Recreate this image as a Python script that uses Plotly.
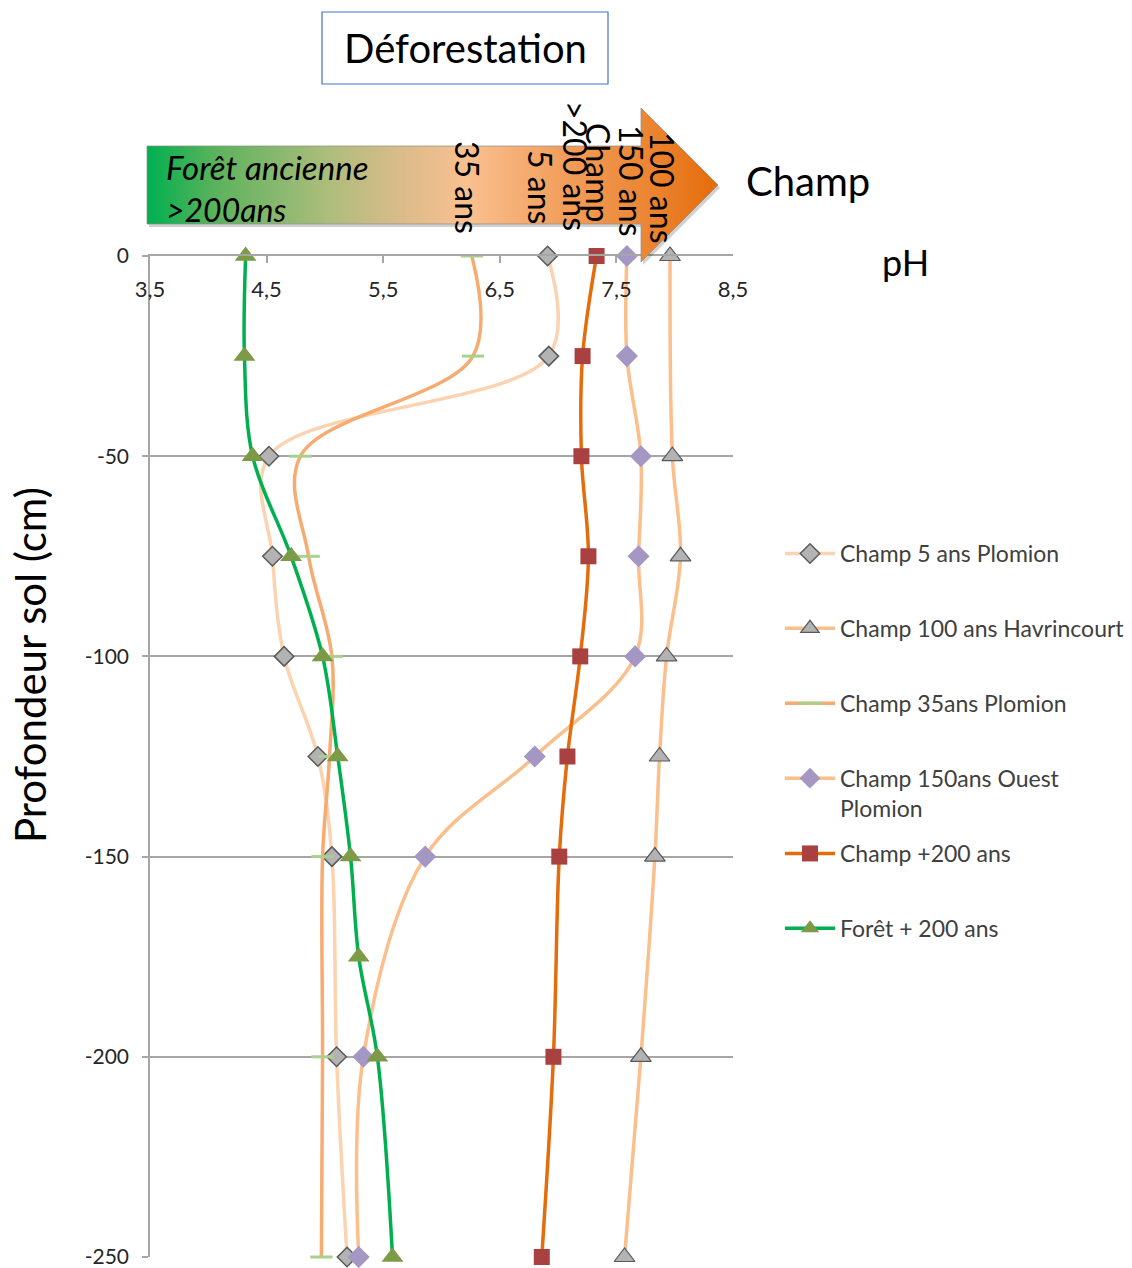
import plotly.graph_objects as go

W, H = 1132, 1268
FONT = "Lato"
GRID = "#a6a6a6"

# ---------------- data ----------------
depth_5ans = [0, -25, -50, -75, -100, -125, -150, -200, -250]
ph_5ans = [6.91, 6.92, 4.52, 4.55, 4.65, 4.94, 5.06, 5.10, 5.19]

depth_100ans = [0, -50, -75, -100, -125, -150, -200, -250]
ph_100ans = [7.96, 7.98, 8.05, 7.93, 7.87, 7.83, 7.71, 7.57]

depth_35ans = [0, -25, -50, -75, -100, -125, -150, -200, -250]
ph_35ans = [6.26, 6.27, 4.79, 4.86, 5.06, 5.04, 4.98, 4.98, 4.97]

depth_150ans = [0, -25, -50, -75, -100, -125, -150, -200, -250]
ph_150ans = [7.59, 7.59, 7.71, 7.69, 7.66, 6.80, 5.86, 5.33, 5.29]

depth_200ans = [0, -25, -50, -75, -100, -125, -150, -200, -250]
ph_200ans = [7.33, 7.21, 7.20, 7.26, 7.19, 7.08, 7.01, 6.96, 6.86]

depth_foret = [0, -25, -50, -75, -100, -125, -150, -175, -200, -250]
ph_foret = [4.32, 4.31, 4.38, 4.71, 4.98, 5.11, 5.22, 5.29, 5.45, 5.58]

x_tickvals = [3.5, 4.5, 5.5, 6.5, 7.5, 8.5]
x_ticktext = ["3,5", "4,5", "5,5", "6,5", "7,5", "8,5"]
y_tickvals = [0, -50, -100, -150, -200, -250]
y_ticktext = ["0", "-50", "-100", "-150", "-200", "-250"]

names = ["Champ 5 ans Plomion", "Champ 100 ans Havrincourt", "Champ 35ans Plomion",
         "Champ 150ans Ouest<br>Plomion", "Champ +200 ans", "Forêt + 200 ans"]

# decorative arrow outline (pixel coordinates of the overlay axes)
ARROW_X = [147, 641, 641, 718, 641, 641, 147, 147]
ARROW_Y = [146, 146, 108, 185, 262, 224, 224, 146]

fig = go.Figure()

def add_series(x, y, name, line_color, line_width, marker, legend):
    fig.add_trace(go.Scatter(
        x=x, y=y, name=name, mode="lines+markers",
        line=dict(color=line_color, width=line_width, shape="spline", smoothing=1.0),
        marker=marker, cliponaxis=False, legend=legend, legendgroup=name,
        xaxis="x", yaxis="y"))

add_series(ph_5ans, depth_5ans, names[0], "#fcd3b0", 3.5,
           dict(symbol="diamond", size=15, color="#b3b3b3", line=dict(color="#595959", width=1.5)), "legend")
add_series(ph_100ans, depth_100ans, names[1], "#fbbf8c", 3.5,
           dict(symbol="triangle-up", size=18, color="#b3b3b3", line=dict(color="#595959", width=1.2)), "legend")
add_series(ph_35ans, depth_35ans, names[2], "#f6ab70", 3.5,
           dict(symbol="line-ew", size=16, color="#a9d18e", line=dict(color="#a9d18e", width=3)), "legend")
add_series(ph_150ans, depth_150ans, names[3], "#fbbf8c", 3.5,
           dict(symbol="diamond", size=17, color="#a497c3", line=dict(width=0)), "legend")
add_series(ph_200ans, depth_200ans, names[4], "#e46c0a", 3.5,
           dict(symbol="square", size=16, color="#a8413f", line=dict(width=0)), "legend2")
add_series(ph_foret, depth_foret, names[5], "#00b050", 3.5,
           dict(symbol="triangle-up", size=19, color="#7d9a47", line=dict(width=0)), "legend2")

# arrow shadow + gradient arrow in overlay pixel axes
fig.add_trace(go.Scatter(
    x=[v + 2 for v in ARROW_X], y=[v + 3 for v in ARROW_Y], mode="lines", fill="toself",
    fillcolor="rgba(0,0,0,0.18)", line=dict(width=0), showlegend=False, hoverinfo="skip",
    xaxis="x2", yaxis="y2"))
fig.add_trace(go.Scatter(
    x=ARROW_X, y=ARROW_Y, mode="lines", fill="toself",
    fillgradient=dict(type="horizontal", colorscale=[
        [0.0, "#00b050"], [0.12, "#5cb25c"], [0.32, "#aebd7c"], [0.45, "#dcbb8a"],
        [0.56, "#fac090"], [0.72, "#f2a05e"], [0.88, "#eb8532"], [1.0, "#e46c0a"]]),
    line=dict(color="rgba(140,140,140,0.7)", width=1), showlegend=False, hoverinfo="skip",
    xaxis="x2", yaxis="y2"))

xtickfont = dict(family=FONT, size=22, color="#262626")
ytickfont = dict(family=FONT, size=21, color="#262626")

fig.update_layout(
    width=W, height=H, margin=dict(l=0, r=0, t=0, b=0, autoexpand=False),
    paper_bgcolor="white", plot_bgcolor="rgba(0,0,0,0)",
    font=dict(family=FONT, color="black"),
    xaxis=dict(domain=[150 / W, 733 / W], range=[3.5, 8.5], side="top", anchor="y",
               tickvals=x_tickvals, ticktext=x_ticktext, ticks="inside", ticklen=7,
               tickcolor=GRID, tickwidth=1.5, showline=True, linecolor=GRID, linewidth=1.5,
               showgrid=False, zeroline=False, ticklabelposition="inside",
               ticklabeloverflow="allow", ticklabelstandoff=20, tickfont=xtickfont,
               fixedrange=True, automargin=False),
    yaxis=dict(domain=[1 - 1257 / H, 1 - 256 / H], range=[-250, 0], anchor="x",
               tickvals=y_tickvals, ticktext=y_ticktext, ticks="outside", ticklen=6,
               tickcolor=GRID, tickwidth=1.5, showline=True, linecolor=GRID, linewidth=1.5,
               showgrid=True, gridcolor=GRID, gridwidth=1.5, zeroline=False,
               ticklabeloverflow="allow", ticklabelstandoff=9, tickfont=ytickfont,
               fixedrange=True, automargin=False),
    xaxis2=dict(domain=[0, 1], range=[0, W], anchor="y2", visible=False, fixedrange=True),
    yaxis2=dict(domain=[0, 1], range=[H, 0], anchor="x2", visible=False, fixedrange=True),
    legend=dict(x=780 / W, y=1 - 532 / H, xanchor="left", yanchor="top",
                font=dict(family=FONT, size=23, color="#404040"), tracegroupgap=42,
                itemwidth=50, valign="top", bgcolor="rgba(0,0,0,0)"),
    legend2=dict(x=780 / W, y=1 - 832 / H, xanchor="left", yanchor="top",
                 font=dict(family=FONT, size=23, color="#404040"), tracegroupgap=42,
                 itemwidth=50, valign="top", bgcolor="rgba(0,0,0,0)"),
    shapes=[dict(type="rect", xref="x2", yref="y2", x0=322, x1=608, y0=12, y1=84,
                 line=dict(color="#4472c4", width=1.2), fillcolor="white", layer="above")],
)

def ann(text, x, y, size, angle=0, xanchor="center", italic=False, color="black"):
    fig.add_annotation(text=text, x=x, y=y, xref="x2", yref="y2", showarrow=False,
                       textangle=angle, xanchor=xanchor, yanchor="middle",
                       font=dict(family=FONT, size=size, color=color,
                                 style="italic" if italic else "normal"))

ann("Déforestation", 465, 48, 40)
ann("Forêt ancienne", 164, 167, 33, xanchor="left", italic=True)
ann("&gt;200ans", 164, 209, 32, xanchor="left", italic=True)
ann("35 ans", 468, 187, 32, angle=90)
ann("5 ans", 541, 187, 32, angle=90)
ann("&gt;200 ans", 576, 166, 32, angle=90)
ann("Champ", 599, 172, 32, angle=90)
ann("150 ans", 632, 181, 32, angle=90)
ann("100 ans", 663, 188, 32, angle=90)
ann("Champ", 744, 181, 40, xanchor="left")
ann("pH", 905, 262, 36)
ann("Profondeur sol (cm)", 30, 665, 42, angle=-90)

fig.write_html("out.html", config={"displayModeBar": False},
               post_script="document.body.style.margin='0';document.body.style.overflow='hidden';")
